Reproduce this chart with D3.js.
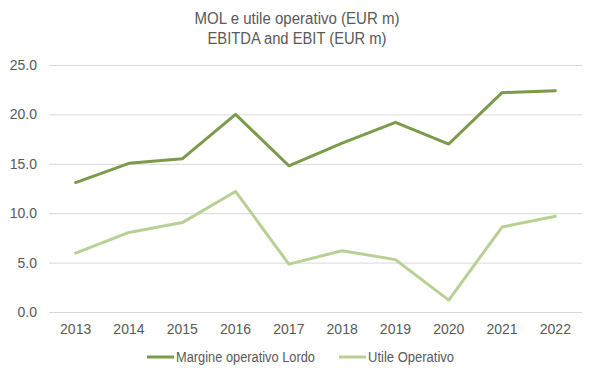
<!DOCTYPE html>
<html><head><meta charset="utf-8">
<script src="https://cdn.jsdelivr.net/npm/d3@7"></script>
<style>body{margin:0;background:#fff}</style>
</head><body>
<svg id="c" width="596" height="378"></svg>
<script>
const years = ["2013","2014","2015","2016","2017","2018","2019","2020","2021","2022"];
const mol = [13.1, 15.05, 15.5, 20.0, 14.8, 17.1, 19.2, 17.0, 22.2, 22.4];
const utile = [5.95, 8.05, 9.05, 12.2, 4.85, 6.2, 5.3, 1.2, 8.6, 9.7];
const yTicks = [0, 5, 10, 15, 20, 25];
const titleLines = ["MOL e utile operativo (EUR m)", "EBITDA and EBIT (EUR m)"];
const seriesNames = ["Margine operativo Lordo", "Utile Operativo"];
const colors = ["#7b9a4a", "#b9d094"];

const svg = d3.select("#c");
const font = "'Liberation Sans',Arial,sans-serif";
const W = 596;
const x = d3.scaleBand().domain(years).range([49, 582]);
const y = d3.scaleLinear().domain([0, 25]).range([312, 65]);

const titleW = [205, 179];
svg.append("g").selectAll("text").data(titleLines).join("text")
  .attr("x", 297).attr("y", (d,i)=>24 + i*20)
  .attr("text-anchor","middle").attr("font-family",font).attr("font-size",16)
  .attr("textLength",(d,i)=>titleW[i]).attr("lengthAdjust","spacingAndGlyphs")
  .attr("fill","#595959").text(d=>d);

const ya = svg.append("g").attr("transform",`translate(49,0)`)
  .call(d3.axisLeft(y).tickValues(yTicks).tickFormat(d3.format(".1f")).tickSize(-(582-49)).tickPadding(12));
ya.select(".domain").remove();
ya.selectAll(".tick line").attr("stroke","#d9d9d9");
ya.selectAll(".tick text").attr("font-family",font).attr("font-size",14).attr("fill","#595959");

const xa = svg.append("g").attr("transform",`translate(0,312)`)
  .call(d3.axisBottom(x).tickSize(0).tickPadding(12));
xa.select(".domain").remove();
xa.selectAll(".tick text").attr("font-family",font).attr("font-size",14).attr("fill","#595959");

const line = d3.line().x((d,i)=>x(years[i]) + x.bandwidth()/2).y(d=>y(d));
[mol, utile].forEach((s,k)=>{
  svg.append("path").datum(s).attr("d",line).attr("fill","none")
    .attr("stroke",colors[k]).attr("stroke-width",3).attr("stroke-linejoin","round").attr("stroke-linecap","round");
});

const legX = [147, 339];
const legW = [139, 86];
seriesNames.forEach((n,k)=>{
  svg.append("line").attr("x1",legX[k]).attr("x2",legX[k]+27).attr("y1",357).attr("y2",357)
    .attr("stroke",colors[k]).attr("stroke-width",3);
  svg.append("text").attr("x",legX[k]+29).attr("y",362).attr("font-family",font).attr("font-size",14)
    .attr("textLength",legW[k]).attr("lengthAdjust","spacingAndGlyphs")
    .attr("fill","#595959").text(n);
});
</script>
</body></html>
